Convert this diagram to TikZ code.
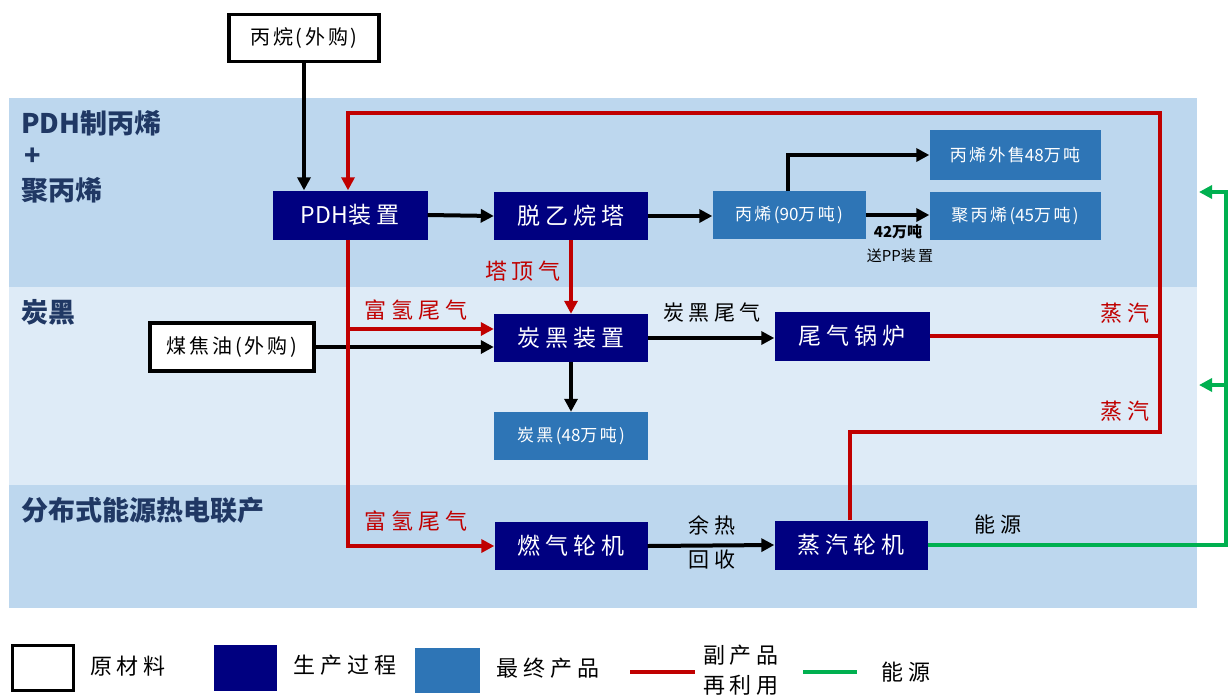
\documentclass[tikz,border=0pt]{standalone}
\usepackage{fontspec}
\setmainfont{Noto Sans CJK SC}
\newfontfamily\spc[LetterSpace=22]{Noto Sans CJK SC}
\newfontfamily\spb[LetterSpace=14]{Noto Sans CJK SC}
\usetikzlibrary{arrows.meta}
\definecolor{navyc}{HTML}{000080}
\definecolor{prodc}{HTML}{2E75B6}
\definecolor{banda}{HTML}{BDD7EE}
\definecolor{bandb}{HTML}{DEEBF7}
\definecolor{redc}{HTML}{C00000}
\definecolor{grnc}{HTML}{00B050}
\definecolor{bandtxt}{HTML}{203864}
\newcommand{\fs}[1]{\fontsize{#1}{#1}\selectfont}
\newcommand{\la}[1]{{\rmfamily #1}}
\begin{document}
\begin{tikzpicture}[x=1pt,y=-1pt,
  raw/.style={draw=black,line width=3.5pt,fill=white,inner sep=0pt,font=\spb\fs{20}},
  proc/.style={draw=none,fill=navyc,text=white,inner sep=0pt,minimum width=155pt,minimum height=49pt,font=\spc\fs{23}},
  prod/.style={draw=none,fill=prodc,text=white,inner sep=0pt,minimum width=154pt,minimum height=48pt,font=\spb\fs{17}},
  blk/.style={draw=black,line width=4pt,-{Triangle[length=13pt,width=13pt]}},
  rdl/.style={draw=redc,line width=4pt},
  rda/.style={rdl,-{Triangle[length=13pt,width=13pt]}},
  grl/.style={draw=grnc,line width=3.5pt},
  gra/.style={grl,-{Triangle[length=13pt,width=13pt]}},
  band/.style={font=\bfseries\fs{27},text=bandtxt,anchor=west,inner sep=0pt},
  rlab/.style={text=redc,font=\spc\fs{22},inner sep=0pt},
  klab/.style={text=black,font=\spc\fs{21},inner sep=0pt},
  leg/.style={text=black,font=\spc\fs{22},inner sep=0pt}]
\useasboundingbox (0,0) rectangle (1228,697);
\fill[white] (0,0) rectangle (1228,697);
% bands
\fill[banda] (9,98) rectangle (1197,287);
\fill[bandb] (9,287) rectangle (1197,485);
\fill[banda] (9,485) rectangle (1197,608);
\node[band] (b1a) at (21,123) {PDH制丙烯};
\node[band] (b1b) at (24,157) {+};
\node[band] (b1c) at (21,190) {聚丙烯};
\node[band] (b2) at (21,312) {炭黑};
\node[band] (b3) at (21,510) {分布式能源热电联产};
% nodes
\node[raw,minimum width=150pt,minimum height=47pt] (bw) at (304,38) {丙烷(外购)};
\node[raw,minimum width=164pt,minimum height=48pt] (mj) at (232,347) {煤焦油(外购)};
\node[proc] (pdh) at (350,215) {\la{PDH}装置};
\node[proc,minimum width=154pt,minimum height=48pt] (tw) at (571,216) {脱乙烷塔};
\node[prod,minimum width=153pt] (bx) at (789,215) {丙烯(\la{90}万吨)};
\node[prod,minimum width=171pt,minimum height=50pt] (ws) at (1015,155) {丙烯外售\la{48}万吨};
\node[prod,minimum width=171pt] (jb) at (1015,216) {聚丙烯(\la{45}万吨)};
\node[proc,minimum width=154pt,minimum height=48pt] (tb) at (571,338) {炭黑装置};
\node[proc] (gl) at (852,336) {尾气锅炉};
\node[prod] (cb) at (571,436) {炭黑(\la{48}万吨)};
\node[proc,minimum width=153pt,minimum height=48pt] (rq) at (571,546) {燃气轮机};
\node[proc,minimum width=153pt] (st) at (851,545) {蒸汽轮机};
% coordinates
\coordinate (rt) at (1160,113);
\coordinate (lt) at (348,113);
\coordinate (j1) at (1160,337);
\coordinate (k2) at (1160,432);
\coordinate (b1) at (348,329);
\coordinate (ga) at (1199,192);
\coordinate (gb) at (1199,385);
\coordinate (gx) at (1226,0);
% black arrows
\draw[blk] (bw.south) -- (pdh.north -| bw.south);
\draw[blk] (pdh.east) -- (tw.west);
\draw[blk] (tw.east) -- (tw.east -| bx.west);
\draw[blk] (bx.north -| 788,0) |- (ws.west);
\draw[blk] (bx.east) -- (bx.east -| jb.west);
\draw[blk] (mj.east) -- (mj.east -| tb.west);
\draw[blk] (tb.east) -- (tb.east -| gl.west);
\draw[blk] (tb.south) -- (cb.north);
\draw[blk] (rq.east) -- (st.west);
% red lines
\draw[rda] (gl.east) -| (rt) -- (lt) -- (lt |- pdh.north);
\draw[rda] (pdh.south -| lt) |- (rq.west);
\draw[rda] (b1) -- (b1 -| tb.west);
\draw[rda] (tw.south) -- (tb.north);
\draw[rdl] (st.north -| 850,0) |- (k2) -- (j1);
% green lines
\draw[gra] (st.east) -| (ga -| gx) -- (ga);
\draw[gra] (gb -| gx) -- (gb);
% labels
\node[rlab] (l1) at (416,310) {富氢尾气};
\node[rlab] (l2) at (416,521) {富氢尾气};
\node[rlab] (l3) at (523,271) {塔顶气};
\node[rlab] (l4) at (1125,313) {蒸汽};
\node[rlab] (l5) at (1125,411) {蒸汽};
\node[klab] (l6) at (712,313) {炭黑尾气};
\node[klab] (l7) at (712,525) {余热};
\node[klab] (l8) at (712,560) {回收};
\node[klab] (l9) at (998,524) {能源};
\node[text=black,font=\bfseries\fs{15},inner sep=0pt] (l10) at (898,232) {42万吨};
\node[text=black,font=\spb\fs{15},inner sep=0pt] (l11) at (900,256) {送\la{PP}装置};
% legend
\node[draw=black,line width=3.5pt,fill=white,minimum width=61pt,minimum height=45pt,inner sep=0pt] (lg1) at (43,668) {};
\node[leg] (lt1) at (128,666) {原材料};
\node[fill=navyc,minimum width=63pt,minimum height=46pt,inner sep=0pt] (lg2) at (245,668) {};
\node[leg] (lt2) at (345,665) {生产过程};
\node[fill=prodc,minimum width=65pt,minimum height=45pt,inner sep=0pt] (lg3) at (447,670) {};
\node[leg] (lt3) at (548,668) {最终产品};
\coordinate (r1) at (630,672);
\coordinate (r2) at (695,672);
\draw[rdl] (r1) -- (r2);
\node[leg] (lt4) at (741,655) {副产品};
\node[leg] (lt5) at (741,685) {再利用};
\coordinate (q1) at (803,672);
\coordinate (q2) at (857,672);
\draw[grl] (q1) -- (q2);
\node[leg] (lt6) at (906,672) {能源};
\end{tikzpicture}
\end{document}
